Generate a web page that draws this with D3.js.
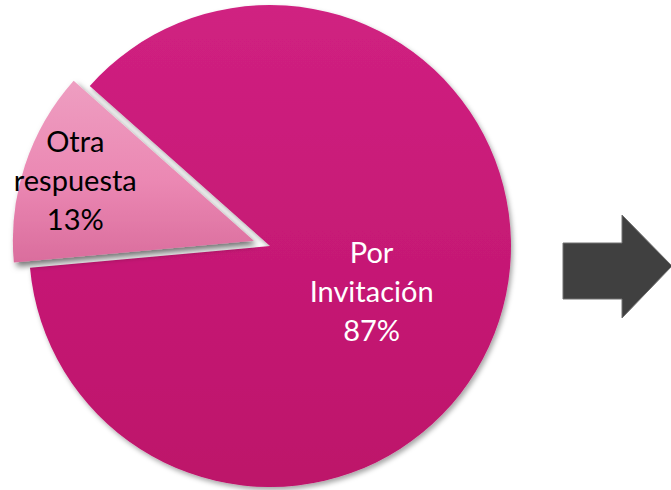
<!DOCTYPE html>
<html><head><meta charset="utf-8">
<script src="https://cdn.jsdelivr.net/npm/d3@7"></script>
<style>html,body{margin:0;padding:0;background:#fff;overflow:hidden}</style>
</head><body>
<svg id="c" width="671" height="490"></svg>
<script>
const categories = ["Por Invitación", "Otra respuesta"];
const values = [87, 13];
const labelLines = [["Por", "Invitación", "87%"], ["Otra", "respuesta", "13%"]];

const svg = d3.select("#c");
const cx = 270, cy = 246, R = 241;
const startDeg = -48.4;
const defs = svg.append("defs");

const g1 = defs.append("linearGradient").attr("id","gBig").attr("x1",0).attr("y1",0).attr("x2",0).attr("y2",1);
g1.append("stop").attr("offset","0%").attr("stop-color","#D02181");
g1.append("stop").attr("offset","100%").attr("stop-color","#BD126A");
const g2 = defs.append("linearGradient").attr("id","gSmall").attr("x1",0).attr("y1",0).attr("x2",0).attr("y2",1);
g2.append("stop").attr("offset","0%").attr("stop-color","#EE9EC1");
g2.append("stop").attr("offset","55%").attr("stop-color","#EB88B3");
g2.append("stop").attr("offset","100%").attr("stop-color","#DA6D9D");

const f1 = defs.append("filter").attr("id","shBig").attr("x","-10%").attr("y","-10%").attr("width","125%").attr("height","125%");
f1.append("feDropShadow").attr("dx",2).attr("dy",3).attr("stdDeviation",2.5).attr("flood-color","#000").attr("flood-opacity",0.35);
const f2 = defs.append("filter").attr("id","shSmall").attr("x","-20%").attr("y","-20%").attr("width","150%").attr("height","150%");
f2.append("feDropShadow").attr("dx",3).attr("dy",4).attr("stdDeviation",3).attr("flood-color","#000").attr("flood-opacity",0.55);

const pie = d3.pie().sort(null).value(d => d)
  .startAngle(startDeg * Math.PI / 180)
  .endAngle(startDeg * Math.PI / 180 + 2 * Math.PI);
const arcs = pie(values);
const arc = d3.arc().innerRadius(0).outerRadius(R);
const explode = [0, 17];
const fills = ["url(#gBig)", "url(#gSmall)"];
const filters = ["url(#shBig)", "url(#shSmall)"];
const labelRad = [0.47 * R, 0.78 * R];
const labelShift = [[-6, 12], [0, 0]];
const textColors = ["#ffffff", "#000000"];

const root = svg.append("g").attr("transform", `translate(${cx},${cy})`);
arcs.forEach((a, i) => {
  const mid = (a.startAngle + a.endAngle) / 2;
  const ox = Math.sin(mid) * explode[i], oy = -Math.cos(mid) * explode[i];
  const gg = root.append("g").attr("transform", `translate(${ox},${oy})`);
  gg.append("path").attr("d", arc(a)).attr("fill", fills[i]).attr("filter", filters[i]);
});
arcs.forEach((a, i) => {
  const mid = (a.startAngle + a.endAngle) / 2;
  const ox = Math.sin(mid) * explode[i], oy = -Math.cos(mid) * explode[i];
  const la = d3.arc().innerRadius(labelRad[i]).outerRadius(labelRad[i]);
  const [lx, ly] = la.centroid(a);
  const t = root.append("text")
    .attr("x", lx + ox + labelShift[i][0]).attr("y", ly + oy + labelShift[i][1])
    .attr("text-anchor", "middle")
    .attr("font-family", "Lato, 'Open Sans', sans-serif")
    .attr("font-size", 29).attr("fill", textColors[i]);
  const lines = labelLines[i];
  lines.forEach((s, k) => {
    t.append("tspan").attr("x", lx + ox + labelShift[i][0])
      .attr("y", ly + oy + labelShift[i][1] + (k - 1) * 39 + 9).text(s);
  });
});

// arrow shape
svg.append("path")
  .attr("d", "M563,243 L622,243 L622,215 L672,266 L622,318 L622,299 L563,299 Z")
  .attr("fill", "#404040").attr("stroke", "#707070").attr("stroke-width", 1);
</script>
</body></html>
